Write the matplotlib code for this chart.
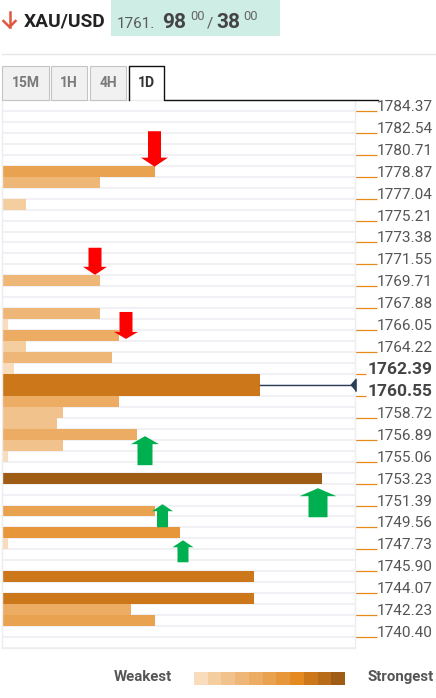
import matplotlib
matplotlib.use("Agg")
import matplotlib.pyplot as plt
import numpy as np
from matplotlib.patches import Rectangle, FancyArrow
from matplotlib.lines import Line2D
from matplotlib.transforms import ScaledTranslation

plt.rcParams['font.family'] = ['Roboto', 'DejaVu Sans']

W, H = 436, 698

# confluence rows (0 = top row of the panel), bar length and strength level (1..11)
bar_rows = [6, 7, 9, 16, 19, 20, 21, 22, 23, 24, 25, 26, 27, 28, 29, 30, 31, 32,
            34, 37, 39, 40, 43, 45, 46, 47]
bar_values = [153, 98, 24, 98, 98, 6, 117, 24, 110, 12, 258, 258, 117, 61, 55, 135, 61, 6,
              320, 153, 178, 6, 252, 252, 129, 153]
bar_levels = [6, 4, 2, 4, 4, 1, 5, 2, 4, 1, 9, 9, 5, 3, 3, 5, 3, 1,
              11, 6, 7, 1, 9, 9, 5, 6]

tick_labels = ['1784.37', '1782.54', '1780.71', '1778.87', '1777.04', '1775.21',
               '1773.38', '1771.55', '1769.71', '1767.88', '1766.05', '1764.22',
               '1762.39', '1760.55', '1758.72', '1756.89', '1755.06', '1753.23',
               '1751.39', '1749.56', '1747.73', '1745.90', '1744.07', '1742.23',
               '1740.40']
bold_labels = ['1762.39', '1760.55']

level_colors = ['#F8DCBC', '#F4CE9F', '#F1C28B', '#EEB777', '#ECAC63', '#E9A24F',
                '#E7963A', '#E48A20', '#CC7719', '#B86C19', '#9E5C15']

n_rows = 50
price_row = 26

# signal arrows: x, start row, end row, shaft width, head width, head length
down_arrows = [(152.5, 2.85, 6.08, 13, 27, 0.82),
               (93, 13.48, 15.95, 13, 24, 0.73),
               (124, 19.34, 21.8, 13, 24, 0.64)]
up_arrows = [(143, 33.32, 30.67, 15, 28, 0.73),
             (316, 38.07, 35.42, 19, 37, 0.73),
             (160.5, 38.98, 36.88, 11, 21, 0.64),
             (181, 42.18, 40.17, 11, 21, 0.64)]


def fx(x):
    return x / W


def fy(y):
    return 1 - y / H


fig = plt.figure(figsize=(W / 100, H / 100), dpi=100)

# ---- header ----
arrow_c = '#E0573F'
fig.add_artist(Line2D([fx(9.5), fx(9.5)], [fy(12), fy(27)], color=arrow_c, lw=1.8,
                      transform=fig.transFigure))
fig.add_artist(Line2D([fx(3.5), fx(9.5), fx(15.5)], [fy(21), fy(27), fy(21)], color=arrow_c,
                      lw=1.8, transform=fig.transFigure, solid_joinstyle='miter'))
fig.text(fx(24), fy(27), 'XAU/USD', fontsize=13.8, fontweight='bold', color='#222222',
         va='baseline')
fig.add_artist(Rectangle((fx(111), fy(36)), 169 / W, 36 / H, transform=fig.transFigure,
                         facecolor='#CEEDE5', edgecolor='none'))
fig.text(fx(117), fy(27.5), '1761.', fontsize=11, color='#5A5A5A', va='baseline')
fig.text(fx(162), fy(27.5), '98', fontsize=15, fontweight='bold', color='#444444',
         va='baseline')
fig.text(fx(190), fy(20), '00', fontsize=9.3, color='#666666', va='baseline')
fig.text(fx(207), fy(27.5), '/', fontsize=11, color='#555555', va='baseline')
fig.text(fx(216), fy(27.5), '38', fontsize=15, fontweight='bold', color='#444444',
         va='baseline')
fig.text(fx(243), fy(20), '00', fontsize=9.3, color='#666666', va='baseline')

fig.add_artist(Line2D([fx(2), fx(436)], [fy(54), fy(54)], color='#E6E6E6', lw=1,
                      transform=fig.transFigure))

# ---- timeframe tabs ----
tabs = [('15M', 2, 49), ('1H', 51, 87), ('4H', 90, 126)]
for name, x0, x1 in tabs:
    fig.add_artist(Rectangle((fx(x0), fy(100)), (x1 - x0) / W, 34 / H,
                             transform=fig.transFigure, facecolor='#F1F1F1',
                             edgecolor='#C4C4C4', lw=0.8))
    fig.text(fx((x0 + x1) / 2), fy(83), name, fontsize=10, fontweight='bold',
             color='#7A7A7A', ha='center', va='center')
fig.add_artist(Line2D([fx(129), fx(129), fx(164), fx(164), fx(378)],
                      [fy(100), fy(66), fy(66), fy(99.5), fy(99.5)], color='#111111',
                      lw=1, transform=fig.transFigure))
fig.text(fx(146.5), fy(83), '1D', fontsize=10, fontweight='bold', color='#333333',
         ha='center', va='center')

# ---- confluence panel ----
ax = fig.add_axes([fx(2), fy(648), 353 / W, 548 / H])
ax.set_xlim(0, 353)
ax.set_ylim(n_rows, 0)

for r in range(n_rows + 1):
    ax.axhline(r, color='#F0F0F5', lw=1.5, zorder=0)

ys = np.array(bar_rows) + 0.5
ax.barh(ys, bar_values, height=1.0, color=[level_colors[l - 1] for l in bar_levels],
        zorder=2)

# current price marker
ax.plot([bar_values[bar_rows.index(price_row)], 353], [price_row, price_row],
        color='#2C3E57', lw=1, zorder=3)
ax.plot([350.5], [price_row], marker=[(-1, 0), (1, 2.4), (1, -2.4)], markersize=9,
        color='#2C3E57', zorder=4, clip_on=False)

for x, y0, y1, w, hw, hl in down_arrows:
    ax.add_patch(FancyArrow(x, y0, 0, y1 - y0, width=w, head_width=hw, head_length=hl,
                            length_includes_head=True, color='#FF0000', lw=0, zorder=5))
for x, y0, y1, w, hw, hl in up_arrows:
    ax.add_patch(FancyArrow(x, y0, 0, y1 - y0, width=w, head_width=hw, head_length=hl,
                            length_includes_head=True, color='#00B050', lw=0, zorder=5))

for side in ['left', 'right', 'bottom', 'top']:
    ax.spines[side].set_color('#EDEDF1')
    ax.spines[side].set_linewidth(1)
ax.set_xticks([])

ax.yaxis.tick_right()
ax.set_yticks(np.arange(1, n_rows, 2))
ax.set_yticklabels(tick_labels)
ax.tick_params(axis='y', direction='out', length=15.8, width=0.9, color='#E8891A', pad=0,
               labelsize=11.1, labelcolor='#555555')
for tick, lab in zip(ax.yaxis.get_major_ticks(), tick_labels):
    tick.label2.set_verticalalignment('baseline')
    if lab in bold_labels:
        tick.tick2line.set_markersize(8)
        tick.label2.set_fontweight('bold')
        tick.label2.set_fontsize(12.5)
        tick.label2.set_color('#444444')
        tick.label2.set_transform(ax.get_yaxis_transform(which='tick2') +
                                  ScaledTranslation(9 / 72, 0, fig.dpi_scale_trans))

# ---- strength legend ----
fig.text(fx(172), fy(677), 'Weakest', fontsize=10.8, fontweight='bold', color='#555555',
         ha='right', va='center')
fig.text(fx(367), fy(677), 'Strongest', fontsize=10.8, fontweight='bold', color='#555555',
         ha='left', va='center')
lax = fig.add_axes([fx(194), fy(685), 151 / W, 13 / H])
lax.bar(np.arange(len(level_colors)), np.ones(len(level_colors)), width=1.0,
        color=level_colors)
lax.set_xlim(-0.5, len(level_colors) - 0.5)
lax.set_ylim(0, 1)
lax.axis('off')

fig.savefig('out.png', dpi=100)
